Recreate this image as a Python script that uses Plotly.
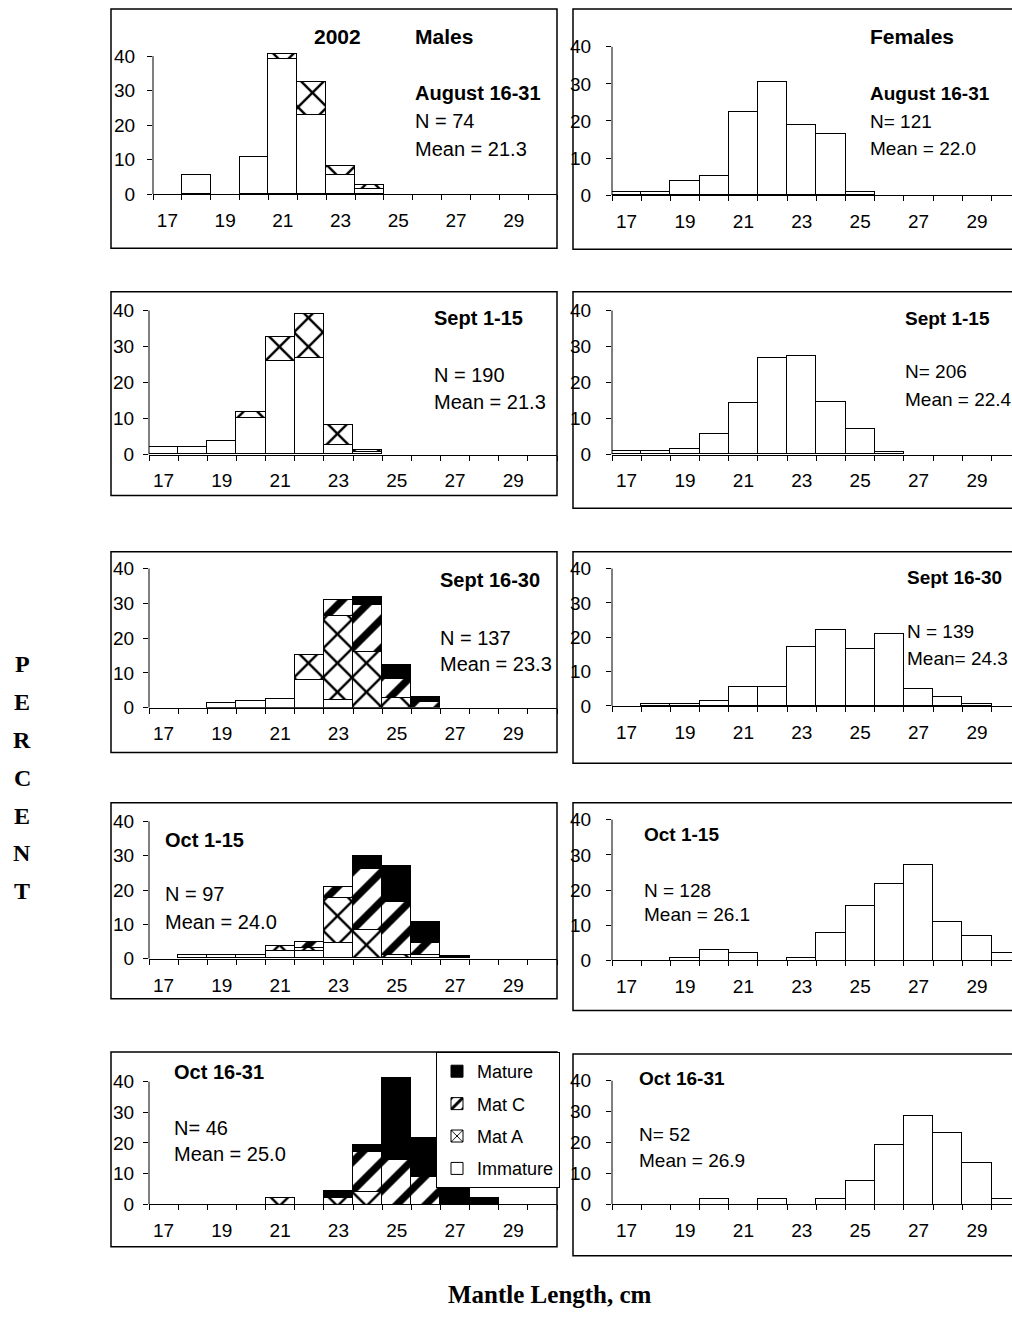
import plotly.graph_objects as go

# ---------------------------------------------------------------- data
lengths = list(range(17, 31))                 # 1-cm mantle length classes
tick_lengths = [17, 19, 21, 23, 25, 27, 29]
periods = ["August 16-31", "Sept 1-15", "Sept 16-30", "Oct 1-15", "Oct 16-31"]
stages = ["Immature", "Mat A", "Mat C", "Mature"]

male_n_text = ["N = 74", "N = 190", "N = 137", "N = 97", "N= 46"]
male_mean_text = ["Mean = 21.3", "Mean = 21.3", "Mean = 23.3", "Mean = 24.0", "Mean = 25.0"]
female_n_text = ["N= 121", "N= 206", "N = 139", "N = 128", "N= 52"]
female_mean_text = ["Mean = 22.0", "Mean = 22.4", "Mean= 24.3", "Mean = 26.1", "Mean = 26.9"]

# percent of males per length class, one row per period
male_immature = [
    [0, 5.4, 0, 10.8, 39.2, 23.0, 5.4, 1.35, 0, 0, 0, 0, 0, 0],
    [2.1, 2.1, 3.7, 10.0, 25.8, 26.8, 2.6, 0.53, 0, 0, 0, 0, 0, 0],
    [0, 0, 1.5, 2.1, 2.6, 8.0, 2.2, 0, 0, 0, 0, 0, 0, 0],
    [0, 1.0, 1.0, 1.0, 2.1, 2.1, 4.4, 0, 0, 1.0, 0, 0, 0, 0],
    [0, 0, 0, 0, 0, 0, 0, 0, 0, 0, 0, 0, 0, 0],
]
male_mat_a = [
    [0, 0, 0, 0, 1.35, 9.45, 2.7, 1.35, 0, 0, 0, 0, 0, 0],
    [0, 0, 0, 1.6, 6.8, 12.1, 5.5, 0.53, 0, 0, 0, 0, 0, 0],
    [0, 0, 0, 0, 0, 7.3, 24.3, 16.0, 2.8, 0, 0, 0, 0, 0],
    [0, 0, 0, 0, 1.4, 1.0, 13.1, 8.3, 1.0, 0, 0, 0, 0, 0],
    [0, 0, 0, 0, 2.2, 0, 2.2, 4.3, 0, 0, 0, 0, 0, 0],
]
male_mat_c = [
    [0, 0, 0, 0, 0, 0, 0, 0, 0, 0, 0, 0, 0, 0],
    [0, 0, 0, 0, 0, 0, 0, 0, 0, 0, 0, 0, 0, 0],
    [0, 0, 0, 0, 0, 0, 4.5, 13.7, 5.5, 1.8, 0, 0, 0, 0],
    [0, 0, 0, 0, 0, 1.6, 3.3, 17.8, 15.5, 3.5, 0, 0, 0, 0],
    [0, 0, 0, 0, 0, 0, 0, 13.0, 14.5, 9.0, 0, 0, 0, 0],
]
male_mature = [
    [0, 0, 0, 0, 0, 0, 0, 0, 0, 0, 0, 0, 0, 0],
    [0, 0, 0, 0, 0, 0, 0, 0, 0, 0, 0, 0, 0, 0],
    [0, 0, 0, 0, 0, 0, 0, 2.1, 4.0, 1.4, 0, 0, 0, 0],
    [0, 0, 0, 0, 0, 0, 0, 3.6, 10.5, 6.0, 0.8, 0, 0, 0],
    [0, 0, 0, 0, 0, 0, 2.2, 2.3, 26.8, 12.7, 6.5, 2.2, 0, 0],
]
# percent of females per length class
female_pct = [
    [0.8, 0.8, 3.7, 5.0, 22.3, 30.5, 18.7, 16.3, 0.8, 0, 0, 0, 0, 0],
    [1.0, 1.0, 1.5, 5.5, 14.1, 26.7, 27.2, 14.6, 7.0, 0.5, 0, 0, 0, 0],
    [0, 0.7, 0.7, 1.5, 5.7, 5.7, 17.3, 22.3, 16.6, 21.1, 5.1, 2.8, 0.7, 0],
    [0, 0, 0.8, 3.1, 2.3, 0, 0.8, 7.8, 15.6, 21.9, 27.3, 10.9, 7.0, 2.3],
    [0, 0, 0, 1.9, 0, 1.9, 0, 1.9, 7.7, 19.2, 28.8, 23.1, 13.5, 1.9],
]

# ---------------------------------------------------------------- layout geometry (pixels)
W, H = 1012, 1327
FONT = "Liberation Sans, Arial, sans-serif"
SERIF = "Liberation Serif, Times New Roman, serif"
YTOP = 42  # headroom above the 40 % tick

# plot-area x extent per column and y pixel of 0 % and 40 % per panel
male_x = [(153, 557), (149, 557), (149, 557), (149, 557), (149, 557)]
female_x = (612, 1012)
female_xmax = 30.2
male_y = [(192.3, 52.7), (455.7, 310), (711.7, 571), (965.7, 826.7), (1214, 1090)]
female_y = [(193.3, 43.3), (455.7, 310), (710, 571), (967.3, 825), (1214, 1089)]
male_frame = [(5, 247), (291, 497), (554, 757), (808, 1006), (1060, 1257)]
female_frame = [(5, 248), (291, 510), (554, 768), (808, 1018), (1062, 1266)]
male_text_pos = [((413, 90), (413, 118), (413, 147)),
                 ((432, 318), (432, 375), (432, 403)),
                 ((438, 583), (438, 641), (438, 668)),
                 ((163, 846), (163, 900), (163, 928)),
                 ((172, 1080), (172, 1137), (172, 1163))]
female_text_pos = [((868, 91), (868, 119), (868, 146)),
                   ((903, 318), (903, 372), (903, 400)),
                   ((905, 580), (905, 635), (905, 662)),
                   ((642, 840), (642, 897), (642, 921)),
                   ((637, 1087), (637, 1143), (637, 1170))]
legend_rank = {"Mature": 1, "Mat C": 2, "Mat A": 3, "Immature": 4}


def px(x):
    return x / W


def py(y):
    return 1 - y / H


def nz(vals):
    return [v if v else None for v in vals]


stage_style = {
    "Immature": dict(color="white"),
    "Mat A": dict(color="white", pattern=dict(shape="x", size=20.5, solidity=0.22,
                                                fgcolor="black", bgcolor="white", fillmode="replace")),
    "Mat C": dict(color="white", pattern=dict(shape="/", size=20.5, solidity=0.36,
                                                fgcolor="black", bgcolor="white", fillmode="replace")),
    "Mature": dict(color="black"),
}

fig = go.Figure()
shapes, annotations = [], []


def setup_axes(k, xr_px, yr_px, xmax, ystandoff):
    x0, x1 = xr_px
    y0, y40 = yr_px
    top = y0 - YTOP / 40 * (y0 - y40)
    xa = "xaxis" if k == 1 else f"xaxis{k}"
    ya = "yaxis" if k == 1 else f"yaxis{k}"
    sfx = "" if k == 1 else str(k)
    fig.layout[xa] = dict(
        domain=[px(x0), px(x1)], range=[16.5, xmax], anchor=f"y{sfx}",
        showline=True, linecolor="black", linewidth=1, showgrid=False, zeroline=False,
        tickmode="array", tickvals=tick_lengths, ticks="",
        minor=dict(ticks="outside", ticklen=5, tickcolor="black", tickwidth=1,
                   tickmode="linear", tick0=16.5, dtick=1, showgrid=False),
        tickfont=dict(family=FONT, size=19, color="black"), ticklabelstandoff=9,
        fixedrange=True,
    )
    fig.layout[ya] = dict(
        domain=[py(y0), py(top)], range=[0, YTOP], anchor=f"x{sfx}",
        showline=False, showgrid=False, zeroline=False,
        tickmode="array", tickvals=[0, 10, 20, 30, 40], ticks="outside", ticklen=5,
        tickcolor="black", tickwidth=1,
        tickfont=dict(family=FONT, size=19, color="black"), ticklabelstandoff=ystandoff,
        fixedrange=True,
    )
    # vertical axis line stops at the 40 % tick
    shapes.append(dict(type="line", xref=f"x{sfx} domain", yref=f"y{sfx}",
                       x0=0, x1=0, y0=0, y1=40, line=dict(color="black", width=1)))
    return f"x{sfx}", f"y{sfx}"


def add_text(xy, text, bold=False, size=20, anchor="left"):
    annotations.append(dict(
        x=px(xy[0]), y=py(xy[1]), xref="paper", yref="paper", showarrow=False,
        xanchor=anchor, yanchor="middle", text=f"<b>{text}</b>" if bold else text,
        font=dict(family=FONT, size=size, color="black")))


for r in range(5):
    # males (left column)
    k = r * 2 + 1
    xr, yr = setup_axes(k, male_x[r], male_y[r], 30.5, 8 if r == 0 else 5)
    series = {"Immature": male_immature[r], "Mat A": male_mat_a[r],
              "Mat C": male_mat_c[r], "Mature": male_mature[r]}
    for s in stages:
        st = stage_style[s]
        marker = dict(color=st["color"], line=dict(color="black", width=1))
        if "pattern" in st:
            marker["pattern"] = st["pattern"]
        fig.add_trace(go.Bar(
            x=lengths, y=nz(series[s]), xaxis=xr, yaxis=yr, name=s,
            legendgroup=s, legendrank=legend_rank[s], showlegend=(r == 4),
            marker=marker, hoverinfo="skip"))
    shapes.append(dict(type="rect", xref="paper", yref="paper",
                       x0=px(111), x1=px(557), y0=py(male_frame[r][1]), y1=py(male_frame[r][0]),
                       line=dict(color="black", width=1.5), layer="below"))
    p, n, m = male_text_pos[r]
    add_text(p, periods[r], bold=True)
    add_text(n, male_n_text[r])
    add_text(m, male_mean_text[r])

    # females (right column)
    k = r * 2 + 2
    xr, yr = setup_axes(k, female_x, female_y[r], female_xmax, 11)
    fig.add_trace(go.Bar(
        x=lengths, y=nz(female_pct[r]), xaxis=xr, yaxis=yr, name="Females",
        showlegend=False, marker=dict(color="white", line=dict(color="black", width=1)),
        hoverinfo="skip"))
    shapes.append(dict(type="rect", xref="paper", yref="paper",
                       x0=px(573), x1=px(1030), y0=py(female_frame[r][1]), y1=py(female_frame[r][0]),
                       line=dict(color="black", width=1.5), layer="below"))
    p, n, m = female_text_pos[r]
    add_text(p, periods[r], bold=True, size=19)
    add_text(n, female_n_text[r], size=19)
    add_text(m, female_mean_text[r], size=19)

# headings
add_text((337, 33), "2002", bold=True, size=21, anchor="center")
add_text((413, 33), "Males", bold=True, size=21)
add_text((868, 33), "Females", bold=True, size=21)

# shared axis titles
for i, ch in enumerate("PERCENT"):
    annotations.append(dict(x=px(22), y=py(668 + i * 38.2), xref="paper", yref="paper",
                            showarrow=False, xanchor="center", yanchor="middle",
                            text=f"<b>{ch}</b>", font=dict(family=SERIF, size=24, color="black")))
annotations.append(dict(x=px(550), y=py(1305), xref="paper", yref="paper", showarrow=False,
                        xanchor="center", yanchor="middle", text="<b>Mantle Length, cm</b>",
                        font=dict(family=SERIF, size=25, color="black")))

fig.update_layout(
    width=W, height=H, margin=dict(l=0, r=0, t=0, b=0),
    paper_bgcolor="white", plot_bgcolor="rgba(0,0,0,0)",
    barmode="stack", bargap=0,
    shapes=shapes, annotations=annotations,
    showlegend=True,
    legend=dict(x=px(436), y=py(1060), xanchor="left", yanchor="top",
                bgcolor="white", bordercolor="black", borderwidth=1,
                font=dict(family=FONT, size=18, color="black"),
                traceorder="grouped", tracegroupgap=6, itemwidth=30),
)

fig.write_html("out.html")
